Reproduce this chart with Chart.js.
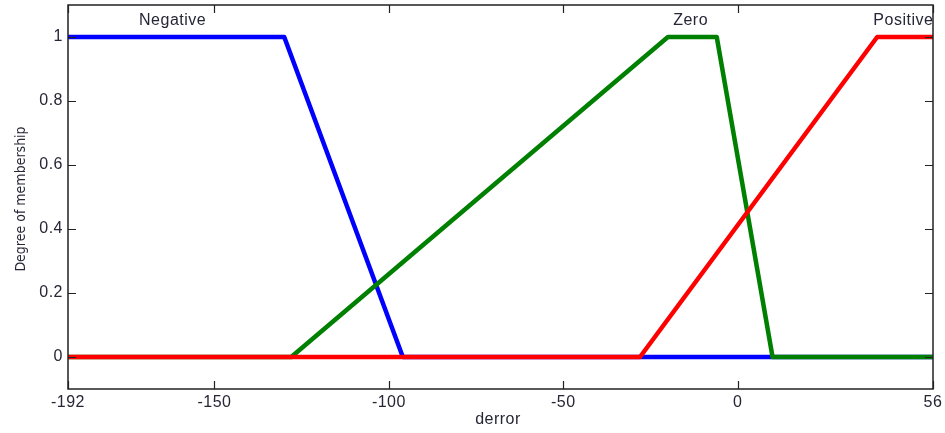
<!DOCTYPE html>
<html>
<head>
<meta charset="utf-8">
<script src="https://cdn.jsdelivr.net/npm/chart.js@4.4.1/dist/chart.umd.min.js"></script>
<style>
  html, body { margin: 0; padding: 0; background: #fff; }
  #wrap { width: 945px; height: 433px; position: relative; }
</style>
</head>
<body>
<div id="wrap"><canvas id="mfChart"></canvas></div>
<script>
// membership function breakpoints (x = derror, y = degree)
const negativeX = [-192, -130, -96, 56]
const negativeY = [1, 1, 0, 0]
const zeroX = [-192, -128, -20, -6, 10, 56]
const zeroY = [0, 0, 1, 1, 0, 0]
const positiveX = [-192, -28, 40, 56]
const positiveY = [0, 0, 1, 1]

const xTicks = [-192, -150, -100, -50, 0, 56]
const yTicks = [0, 0.2, 0.4, 0.6, 0.8, 1]

const mfNames = ['Negative', 'Zero', 'Positive']
const mfLabelX = [-162, -13.5, 47.5]
const mfLabelY = 1.05

const toPoints = (xs, ys) => xs.map((x, i) => ({ x: x, y: ys[i] }))

const textColor = '#262636'
const fontFamily = '"Liberation Sans", Arial, sans-serif'

const frameAndLabels = {
    id: 'frameAndLabels',
    beforeDraw(chart) {
        // matlab-ish wide text
        chart.ctx.letterSpacing = '0.5px'
    },
    afterDatasetsDraw(chart) {
        const c = chart.ctx
        const area = chart.chartArea
        const xs = chart.scales.x
        const ys = chart.scales.y
        c.save()
        c.strokeStyle = '#222'
        c.lineWidth = 1.5
        c.strokeRect(area.left, area.top, area.right - area.left, area.bottom - area.top)

        // inward tick marks on all four sides
        c.lineWidth = 1.2
        c.beginPath()
        xTicks.forEach(v => {
            const px = Math.round(xs.getPixelForValue(v)) + 0.5
            c.moveTo(px, area.bottom); c.lineTo(px, area.bottom - 8)
            c.moveTo(px, area.top); c.lineTo(px, area.top + 8)
        })
        yTicks.forEach(v => {
            const py = Math.round(ys.getPixelForValue(v)) + 0.5
            c.moveTo(area.left, py); c.lineTo(area.left + 8, py)
            c.moveTo(area.right, py); c.lineTo(area.right - 8, py)
        })
        c.stroke()

        // membership function names
        c.fillStyle = textColor
        c.font = '16px ' + fontFamily
        c.letterSpacing = '0.5px'
        c.textAlign = 'center'
        c.textBaseline = 'middle'
        mfNames.forEach((name, i) => {
            c.fillText(name, xs.getPixelForValue(mfLabelX[i]), ys.getPixelForValue(mfLabelY))
        })

        // axis titles
        c.fillText('derror', 498, 420)
        c.letterSpacing = '0px'
        c.translate(21, 199)
        c.rotate(-Math.PI / 2)
        c.font = '14px "DejaVu Sans Condensed", "Liberation Sans Narrow", sans-serif'
        c.fillText('Degree of membership', 0, 0)
        c.restore()
    }
}

const ctx = document.getElementById('mfChart').getContext('2d')

const mfChart = new Chart(ctx, {
    type: 'line',
    data: {
        datasets: [
            { label: 'Positive', data: toPoints(positiveX, positiveY), borderColor: '#ff0000', order: 0 },
            { label: 'Zero', data: toPoints(zeroX, zeroY), borderColor: '#008000', order: 1 },
            { label: 'Negative', data: toPoints(negativeX, negativeY), borderColor: '#0000ff', order: 2 }
        ]
    },
    options: {
        responsive: true,
        maintainAspectRatio: false,
        animation: false,
        clip: false,
        layout: {
            padding: { top: 5, right: 12, left: 0, bottom: 0 }
        },
        elements: {
            line: { borderWidth: 4.5, tension: 0, borderJoinStyle: 'round', borderCapStyle: 'butt' },
            point: { radius: 0, hoverRadius: 0 }
        },
        plugins: {
            legend: { display: false },
            tooltip: { enabled: false }
        },
        scales: {
            x: {
                type: 'linear',
                min: -192,
                max: 56,
                afterBuildTicks: scale => { scale.ticks = xTicks.map(v => ({ value: v })) },
                afterFit: scale => {
                    scale.height = 44
                    scale.paddingLeft = 0
                    scale.paddingRight = 0
                },
                grid: { display: false, drawTicks: false },
                border: { display: false },
                ticks: {
                    color: textColor,
                    padding: 4,
                    maxRotation: 0,
                    autoSkip: false,
                    font: { family: fontFamily, size: 16 }
                }
            },
            y: {
                type: 'linear',
                min: -0.1,
                max: 1.1,
                afterBuildTicks: scale => { scale.ticks = yTicks.map(v => ({ value: v })) },
                afterFit: scale => {
                    scale.width = 68
                    scale.paddingTop = 0
                    scale.paddingBottom = 0
                },
                grid: { display: false, drawTicks: false },
                border: { display: false },
                ticks: {
                    color: textColor,
                    padding: 5,
                    autoSkip: false,
                    font: { family: fontFamily, size: 16 },
                    callback: v => String(Math.round(v * 10) / 10)
                }
            }
        }
    },
    plugins: [frameAndLabels]
})
</script>
</body>
</html>
